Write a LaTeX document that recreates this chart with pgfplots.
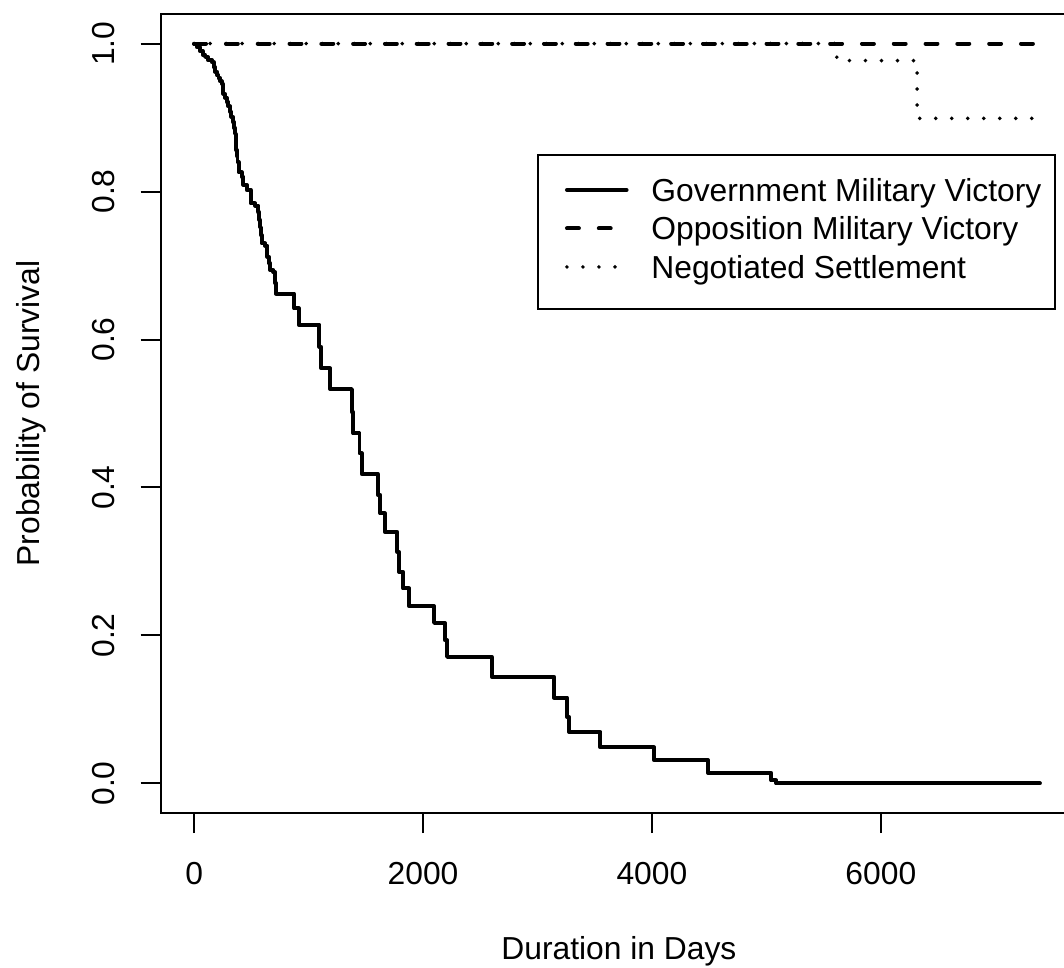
\documentclass[border=0pt]{standalone}
\usepackage{fontspec}
\setmainfont{Liberation Sans}
\usepackage{pgfplots}
\pgfplotsset{compat=1.18}

\begin{document}
\fontsize{12}{14.4}\selectfont
\begin{tikzpicture}
\begin{axis}[
    scale only axis,
    width=345.8pt, height=301.5pt,
    xmin=-292, xmax=7715,
    ymin=-0.04, ymax=1.04,
    xtick={0,2000,4000,6000},
    ytick={0,0.2,0.4,0.6,0.8,1},
    tick align=outside,
    xtick pos=left, ytick pos=left,
    major tick length=7.55pt,
    tick style={black, line width=0.75pt},
    axis line style={black, line width=0.75pt},
    scaled ticks=false,
    /pgf/number format/assume math mode=true,
    /pgf/number format/1000 sep={},
    xticklabel style={anchor=base, yshift=-19.5pt},
    yticklabel style={xshift=-9.9pt, rotate=90, anchor=base,
        /pgf/number format/.cd, fixed, fixed zerofill, precision=1},
    xlabel={Duration in Days},
    ylabel={Probability of Survival},
    xlabel style={at={(axis description cs:0.5,-0.1835)}, anchor=base},
    ylabel style={at={(axis description cs:-0.1320,0.5)}, anchor=base},
    legend cell align=left,
    legend style={at={(axis description cs:0.41117,0.8248)}, anchor=north west,
        draw=black, line width=0.75pt, fill=white,
        inner xsep=5pt, inner ysep=8.5pt,
        row sep=2.53pt, column sep=8.6pt,
        nodes={inner sep=0pt, text height=9pt, text depth=3pt, anchor=base west}},
    legend image code/.code={\path (0pt,0pt);
        \draw[#1] (5pt,4.3pt) -- (27.5pt,4.3pt);},
]
% government military victory (Kaplan-Meier steps)
\addplot[const plot, black, line width=1.5pt, line cap=round, line join=round] coordinates {
 (0,1.0) (25,0.995) (50,0.99) (75,0.985) (96,0.982) (120,0.978) (154,0.975)
 (170,0.968) (183,0.962) (200,0.957) (213,0.953) (230,0.949) (242,0.946)
 (250,0.939) (256,0.932) (270,0.927) (286,0.921) (300,0.915) (315,0.908)
 (326,0.901) (338,0.894) (348,0.886) (358,0.878) (362,0.867) (367,0.856)
 (373,0.848) (379,0.840) (388,0.826) (417,0.820) (431,0.809) (460,0.802)
 (495,0.784) (533,0.781) (562,0.772) (570,0.762) (577,0.752) (584,0.741)
 (591,0.730) (620,0.727) (641,0.712) (652,0.703) (664,0.694) (693,0.691)
 (708,0.676) (716,0.662) (874,0.642) (914,0.620) (1095,0.590) (1110,0.561)
 (1188,0.533) (1378,0.502) (1390,0.473) (1445,0.446) (1465,0.418)
 (1605,0.390) (1625,0.365) (1665,0.340) (1775,0.313) (1790,0.286)
 (1825,0.2635) (1878,0.2396) (2097,0.217) (2190,0.1937) (2210,0.171)
 (2600,0.144) (3145,0.116) (3258,0.090) (3275,0.0697) (3550,0.0486)
 (4018,0.0315) (4490,0.0143) (5042,0.004) (5085,0) (7390,0)
};
\addlegendentry{Government Military Victory}
% opposition military victory
\addplot[black, line width=1.5pt, line cap=round, dash pattern=on 4.5pt off 7.5pt] coordinates {
 (0,1) (7395,1)
};
\addlegendentry{Opposition Military Victory}
% negotiated settlement
\addplot[const plot, black, line width=1.5pt, line cap=round, dash pattern=on 0pt off 6.04pt] coordinates {
 (0,1) (5615,0.977) (6317,0.899) (7395,0.899)
};
\addlegendentry{Negotiated Settlement}
\coordinate (bbsw) at (axis description cs:-0.17536,-0.19274);
\coordinate (bbne) at (axis description cs:0.98570,1.01752);
\end{axis}
\pgfresetboundingbox
\path[use as bounding box] (bbsw) rectangle (bbne);
\end{tikzpicture}
\end{document}
